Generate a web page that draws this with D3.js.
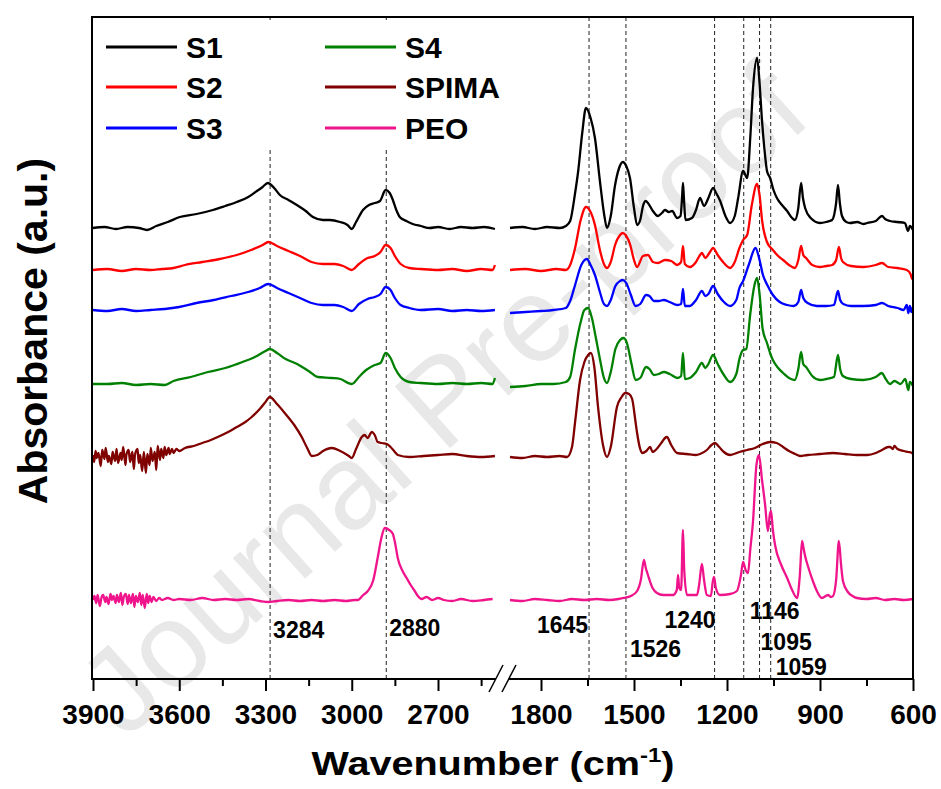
<!DOCTYPE html>
<html>
<head>
<meta charset="utf-8">
<script src="https://cdn.jsdelivr.net/npm/d3@7/dist/d3.min.js"></script>
<style>
  body { margin: 0; background: #fff; }
  svg { display: block; }
  text { font-family: "Liberation Sans", Arial, sans-serif; font-weight: bold; }
</style>
</head>
<body>
<div id="chart"></div>
<script>
// ---- data: FTIR spectra, [wavenumber, absorbance above own baseline] ----
const seriesNames = ["S1", "S2", "S3", "S4", "SPIMA", "PEO"];
const seriesColors = ["#000000", "#ff0000", "#0000ff", "#008000", "#800000", "#f0148c"];
const baselines = [4.51, 4.09, 3.69, 2.95, 2.22, 0.79];

const ticksHi = [3900, 3600, 3300, 3000, 2700];
const minorHi = [3750, 3450, 3150, 2850, 2550];
const ticksLo = [1800, 1500, 1200, 900, 600];
const minorLo = [1650, 1350, 1050, 750];

const peaksHi = [3284, 2880];
const peaksLo = [1645, 1526, 1240, 1146, 1095, 1059];

// high wavenumber region 3900-2500
const s1Hi = [[3900,0],[3860,0.01],[3820,-0.01],[3780,0.01],[3740,0],[3712,-0.02],[3680,0.02],[3640,0.06],[3598,0.11],[3540,0.14],[3483,0.18],[3440,0.22],[3400,0.26],[3360,0.31],[3330,0.37],[3310,0.41],[3292,0.45],[3270,0.40],[3250,0.33],[3220,0.28],[3191,0.23],[3160,0.17],[3135,0.11],[3100,0.08],[3076,0.08],[3041,0.06],[3015,0.03],[3000,-0.01],[2985,0.06],[2961,0.18],[2940,0.23],[2920,0.25],[2902,0.27],[2882,0.38],[2868,0.35],[2857,0.28],[2845,0.18],[2833,0.11],[2810,0.07],[2788,0.04],[2760,0.02],[2729,0],[2700,0.01],[2660,-0.01],[2620,0.01],[2580,0],[2540,0.01],[2502,-0.01]];
const s2Hi = [[3900,0],[3850,0.01],[3800,-0.01],[3750,0.01],[3700,0],[3660,0.01],[3620,0.02],[3580,0.05],[3520,0.08],[3460,0.11],[3400,0.15],[3350,0.20],[3310,0.25],[3290,0.28],[3260,0.24],[3220,0.19],[3180,0.14],[3140,0.08],[3100,0.06],[3060,0.06],[3030,0.04],[3000,0],[2975,0.06],[2945,0.12],[2920,0.14],[2900,0.18],[2882,0.25],[2865,0.22],[2850,0.14],[2830,0.06],[2800,0.02],[2760,0.01],[2700,0],[2650,0.01],[2600,-0.01],[2550,0.01],[2510,0],[2502,0.05]];
const s3Hi = [[3900,0],[3850,-0.01],[3800,0.01],[3750,-0.01],[3700,0],[3650,0.01],[3600,0.03],[3540,0.07],[3480,0.10],[3420,0.14],[3360,0.18],[3320,0.22],[3290,0.26],[3260,0.22],[3220,0.17],[3180,0.12],[3140,0.07],[3100,0.05],[3060,0.05],[3030,0.03],[3000,-0.01],[2975,0.06],[2945,0.11],[2920,0.13],[2900,0.16],[2882,0.23],[2865,0.20],[2850,0.12],[2830,0.05],[2800,0.02],[2760,0],[2700,0.01],[2650,-0.01],[2600,0],[2550,-0.01],[2502,0]];
const s4Hi = [[3900,0],[3850,0],[3800,0.01],[3750,-0.01],[3700,0],[3650,-0.01],[3620,0.03],[3560,0.07],[3500,0.12],[3440,0.16],[3380,0.22],[3330,0.28],[3300,0.33],[3285,0.35],[3260,0.31],[3230,0.25],[3190,0.20],[3150,0.13],[3118,0.07],[3070,0.06],[3040,0.05],[3000,0],[2975,0.07],[2950,0.14],[2920,0.19],[2900,0.21],[2882,0.31],[2865,0.26],[2850,0.16],[2830,0.07],[2800,0.02],[2760,0.01],[2700,0],[2650,0.01],[2600,0],[2550,0.01],[2510,0],[2502,0.06]];
const spimaHi = [[3900,0.02],[3896,-0.05],[3891,0.06],[3887,-0.01],[3881,0.04],[3873,-0.09],[3868,0.07],[3860,-0.02],[3856,0.09],[3848,-0.05],[3845,0.01],[3836,-0.07],[3832,0.05],[3823,-0.04],[3818,0.08],[3813,-0.06],[3804,0.04],[3800,-0.03],[3795,0.10],[3787,-0.08],[3784,0.02],[3776,0.07],[3771,-0.05],[3763,0.05],[3758,-0.12],[3754,0.02],[3745,0.08],[3741,-0.06],[3736,0.02],[3729,-0.14],[3723,0.05],[3716,-0.16],[3711,0.03],[3703,-0.08],[3699,0.09],[3693,-0.04],[3685,0.05],[3680,-0.13],[3675,0.11],[3667,-0.03],[3663,0.08],[3655,-0.01],[3651,0.10],[3645,0.02],[3637,0.09],[3633,0.03],[3625,0.08],[3620,0.04],[3610,0.08],[3600,0.06],[3580,0.09],[3550,0.11],[3520,0.14],[3490,0.17],[3466,0.20],[3430,0.25],[3400,0.30],[3370,0.35],[3348,0.40],[3320,0.48],[3300,0.55],[3285,0.60],[3260,0.53],[3233,0.44],[3200,0.32],[3174,0.20],[3155,0.09],[3139,0.01],[3120,0.02],[3100,0.06],[3070,0.09],[3040,0.06],[3010,0.01],[3000,-0.01],[2985,0.08],[2965,0.20],[2955,0.22],[2945,0.19],[2930,0.25],[2920,0.22],[2910,0.15],[2895,0.14],[2878,0.13],[2865,0.10],[2850,0.05],[2840,0.02],[2800,0],[2750,0.01],[2700,0.02],[2650,0.03],[2600,0.01],[2550,0],[2502,0.01]];
const peoHi = [[3900,0],[3895,0.04],[3889,-0.03],[3884,0.05],[3876,-0.06],[3871,0.02],[3865,0.05],[3857,-0.02],[3853,0.03],[3846,-0.04],[3839,0.06],[3834,0],[3829,0.04],[3821,-0.03],[3817,0.05],[3810,-0.02],[3803,0.07],[3798,-0.05],[3793,0.03],[3786,0.06],[3779,-0.04],[3775,0.05],[3768,-0.03],[3761,0.06],[3756,-0.07],[3751,0.04],[3744,-0.02],[3737,0.07],[3732,-0.05],[3727,0.05],[3720,-0.08],[3713,0.06],[3708,-0.03],[3703,0.04],[3696,-0.02],[3690,0.03],[3680,-0.01],[3670,0.02],[3660,0],[3640,0.02],[3620,0],[3600,0.01],[3560,0],[3520,0.02],[3480,0],[3440,0.01],[3400,0],[3360,0.01],[3320,-0.01],[3290,-0.02],[3260,-0.01],[3220,0],[3180,-0.01],[3140,0],[3100,-0.01],[3060,0],[3020,-0.01],[2990,0],[2979,0],[2960,0.05],[2944,0.09],[2925,0.20],[2910,0.42],[2897,0.62],[2885,0.72],[2870,0.70],[2857,0.66],[2848,0.55],[2840,0.42],[2825,0.30],[2809,0.22],[2795,0.15],[2781,0.09],[2770,0.04],[2757,0.01],[2740,0.03],[2720,0],[2700,0.02],[2680,0],[2650,-0.01],[2620,0.01],[2580,-0.01],[2540,0],[2510,0.01]];

// fingerprint region 1900-600
const s1Lo = [[1900,0],[1860,0.01],[1820,-0.01],[1780,0.01],[1739,0],[1720,0.02],[1706,0.07],[1690,0.35],[1680,0.57],[1667,0.95],[1655,1.20],[1640,1.10],[1626,0.90],[1610,0.47],[1597,0.15],[1587,0],[1575,0.12],[1561,0.43],[1548,0.60],[1536,0.66],[1525,0.62],[1513,0.50],[1500,0.20],[1490,0.03],[1480,0.08],[1471,0.22],[1462,0.27],[1455,0.25],[1439,0.17],[1423,0.12],[1410,0.15],[1400,0.18],[1388,0.16],[1377,0.17],[1361,0.10],[1350,0.12],[1345,0.30],[1342,0.45],[1339,0.30],[1334,0.08],[1313,0.10],[1300,0.18],[1287,0.30],[1274,0.22],[1260,0.30],[1245,0.40],[1235,0.35],[1222,0.27],[1205,0.12],[1190,0.05],[1175,0.12],[1164,0.30],[1148,0.57],[1135,0.50],[1125,0.90],[1116,1.40],[1103,1.70],[1095,1.45],[1087,1.07],[1078,0.75],[1071,0.57],[1061,0.50],[1050,0.38],[1039,0.30],[1020,0.22],[1006,0.17],[990,0.10],[981,0.08],[970,0.20],[961,0.45],[955,0.30],[948,0.20],[930,0.10],[900,0.05],[880,0.06],[861,0.08],[848,0.25],[842,0.43],[836,0.25],[829,0.12],[815,0.06],[803,0.05],[780,0.06],[760,0.04],[748,0.05],[720,0.07],[700,0.12],[690,0.09],[674,0.07],[650,0.06],[626,0.05],[616,-0.03],[610,0.02],[600,-0.02]];
const s2Lo = [[1900,0],[1850,0.01],[1800,-0.01],[1750,0.01],[1720,0],[1706,0.05],[1690,0.22],[1672,0.50],[1655,0.63],[1640,0.58],[1626,0.45],[1610,0.20],[1597,0.06],[1587,0.02],[1575,0.08],[1561,0.25],[1545,0.35],[1536,0.37],[1525,0.34],[1513,0.26],[1500,0.10],[1490,0.03],[1471,0.14],[1455,0.15],[1439,0.08],[1423,0.07],[1400,0.10],[1380,0.09],[1361,0.05],[1348,0.08],[1342,0.24],[1336,0.06],[1320,0.03],[1300,0.08],[1287,0.15],[1281,0.17],[1270,0.12],[1255,0.18],[1245,0.22],[1230,0.15],[1210,0.07],[1190,0.02],[1175,0.08],[1160,0.22],[1148,0.30],[1135,0.35],[1120,0.65],[1103,0.86],[1095,0.75],[1087,0.50],[1071,0.28],[1052,0.20],[1035,0.14],[1019,0.10],[1000,0.05],[981,0.02],[970,0.10],[961,0.24],[954,0.15],[945,0.12],[925,0.05],[900,0.03],[880,0.04],[861,0.05],[848,0.10],[839,0.23],[832,0.12],[826,0.08],[800,0.04],[760,0.03],[720,0.05],[700,0.07],[680,0.03],[650,0.02],[620,0],[608,-0.04],[603,-0.09],[600,-0.07]];
const s3Lo = [[1900,-0.03],[1850,-0.02],[1800,-0.01],[1760,0],[1720,0.02],[1706,0.09],[1690,0.25],[1670,0.45],[1652,0.51],[1640,0.45],[1626,0.35],[1610,0.18],[1597,0.06],[1587,0.04],[1575,0.10],[1560,0.24],[1545,0.29],[1536,0.30],[1525,0.27],[1510,0.15],[1495,0.04],[1480,0.06],[1461,0.15],[1450,0.14],[1436,0.09],[1420,0.09],[1404,0.10],[1385,0.08],[1360,0.05],[1348,0.06],[1342,0.21],[1336,0.04],[1320,0.04],[1300,0.10],[1281,0.19],[1270,0.14],[1260,0.16],[1245,0.24],[1230,0.16],[1210,0.08],[1190,0.04],[1170,0.10],[1160,0.22],[1148,0.29],[1130,0.45],[1108,0.62],[1095,0.50],[1084,0.35],[1070,0.25],[1052,0.15],[1030,0.08],[1006,0.05],[985,0.04],[970,0.08],[961,0.20],[954,0.12],[940,0.07],[910,0.04],[880,0.04],[855,0.05],[842,0.19],[835,0.10],[825,0.06],[800,0.04],[760,0.04],[720,0.05],[700,0.07],[680,0.04],[650,0.02],[630,0],[620,0.05],[615,-0.03],[610,0.04],[605,-0.02],[600,0.03]];
const s4Lo = [[1900,-0.03],[1850,-0.02],[1800,0],[1760,0],[1720,0.02],[1706,0.07],[1690,0.35],[1672,0.62],[1660,0.74],[1648,0.76],[1635,0.65],[1626,0.51],[1610,0.25],[1597,0.06],[1587,0.01],[1575,0.12],[1560,0.35],[1545,0.44],[1533,0.46],[1522,0.40],[1508,0.20],[1495,0.04],[1480,0.06],[1461,0.17],[1450,0.15],[1436,0.09],[1420,0.10],[1404,0.12],[1385,0.10],[1360,0.06],[1348,0.08],[1342,0.31],[1336,0.05],[1320,0.06],[1300,0.12],[1281,0.21],[1270,0.16],[1260,0.20],[1245,0.29],[1230,0.20],[1210,0.09],[1190,0.02],[1170,0.10],[1160,0.25],[1148,0.34],[1138,0.35],[1125,0.70],[1112,0.98],[1103,1.06],[1095,0.90],[1085,0.55],[1071,0.41],[1060,0.30],[1052,0.24],[1035,0.16],[1019,0.11],[1000,0.06],[981,0.04],[970,0.15],[961,0.32],[954,0.20],[945,0.17],[925,0.08],[900,0.04],[880,0.05],[855,0.07],[842,0.29],[835,0.15],[826,0.08],[800,0.05],[760,0.04],[720,0.07],[700,0.11],[690,0.06],[674,0],[660,0.03],[640,0],[625,0.05],[615,-0.06],[610,0.02],[600,-0.02]];
const spimaLo = [[1900,0],[1860,-0.01],[1820,0.01],[1780,0],[1740,0.01],[1716,0],[1700,0.10],[1690,0.35],[1674,0.77],[1660,0.95],[1648,1.02],[1639,1.04],[1628,0.90],[1616,0.50],[1600,0.12],[1587,0],[1575,0.10],[1555,0.50],[1540,0.60],[1528,0.64],[1516,0.63],[1506,0.58],[1495,0.35],[1490,0.24],[1480,0.08],[1474,0.04],[1460,0.06],[1448,0.10],[1440,0.05],[1430,0.07],[1412,0.14],[1400,0.19],[1394,0.20],[1380,0.12],[1361,0.04],[1330,0.03],[1300,0.02],[1287,0.03],[1265,0.07],[1250,0.12],[1239,0.14],[1225,0.10],[1210,0.05],[1190,0.02],[1160,0.05],[1135,0.07],[1110,0.09],[1085,0.13],[1061,0.15],[1040,0.14],[1019,0.10],[1000,0.06],[980,0.03],[964,0.01],[940,0.02],[900,0.03],[858,0.04],[820,0.03],[780,0.02],[748,0.02],[720,0.04],[700,0.07],[680,0.10],[674,0.10],[665,0.08],[660,0.11],[650,0.08],[630,0.06],[615,0.05],[603,0.04],[600,0.03]];
const peoLo = [[1900,0],[1860,-0.01],[1820,0.01],[1780,0],[1740,-0.01],[1700,0.01],[1660,0],[1620,0.01],[1580,0],[1550,0.01],[1535,0.02],[1510,0.04],[1490,0.09],[1478,0.20],[1468,0.40],[1462,0.32],[1455,0.25],[1440,0.12],[1426,0.07],[1406,0.05],[1374,0.05],[1362,0.10],[1358,0.25],[1354,0.12],[1348,0.10],[1342,0.70],[1338,0.30],[1329,0.05],[1297,0.05],[1290,0.15],[1281,0.36],[1274,0.20],[1265,0.05],[1252,0.04],[1246,0.18],[1242,0.23],[1236,0.12],[1223,0.05],[1190,0.06],[1168,0.09],[1155,0.25],[1148,0.38],[1140,0.30],[1132,0.27],[1125,0.50],[1116,0.79],[1105,1.35],[1097,1.45],[1087,1.20],[1077,0.95],[1068,0.69],[1062,0.85],[1058,0.89],[1052,0.70],[1045,0.55],[1025,0.35],[1006,0.22],[990,0.10],[974,0.02],[965,0.25],[958,0.59],[952,0.50],[948,0.44],[935,0.30],[923,0.19],[910,0.09],[894,0.02],[874,0.05],[865,0.03],[858,0.04],[848,0.20],[839,0.59],[832,0.35],[826,0.19],[810,0.08],[795,0.04],[781,0.02],[750,0.01],[720,0.02],[690,0],[660,0.01],[630,0],[600,0.01]];

const hiData = [s1Hi, s2Hi, s3Hi, s4Hi, spimaHi, peoHi];
const loData = [s1Lo, s2Lo, s3Lo, s4Lo, spimaLo, peoLo];

// ---- layout ----
const width = 941, height = 789;
const box = { left: 92, right: 913, top: 17, bottom: 679 };

const svg = d3.select("#chart").append("svg")
  .attr("width", width).attr("height", height)
  .attr("viewBox", [0, 0, width, height]);

const xHi = d3.scaleLinear().domain([3900, 2500]).range([93, 495.5]);
const xLo = d3.scaleLinear().domain([1900, 600]).range([510, 913]);
const y = d3.scaleLinear().domain([0, 6.62]).range([box.bottom, box.top]);

// watermark
svg.append("text")
  .attr("transform", "translate(470,430) rotate(-42)")
  .attr("text-anchor", "middle")
  .attr("font-size", 120)
  .style("font-weight", "normal")
  .attr("fill", "#e8e8e8")
  .text("Journal Pre-proof");

// peak guide lines
const guides = peaksHi.map(p => xHi(p)).concat(peaksLo.map(p => xLo(p)));
svg.selectAll(".guide").data(guides).enter().append("line")
  .attr("class", "guide")
  .attr("x1", d => d).attr("x2", d => d)
  .attr("y1", box.top).attr("y2", box.bottom)
  .attr("stroke", "#222").attr("stroke-width", 1)
  .attr("stroke-dasharray", "4,3");

// spectra
seriesNames.forEach((name, i) => {
  const base = baselines[i];
  const lineHi = d3.line().x(d => xHi(d[0])).y(d => y(base + d[1])).curve(d3.curveMonotoneX);
  const lineLo = d3.line().x(d => xLo(d[0])).y(d => y(base + d[1])).curve(d3.curveMonotoneX);
  [[hiData[i], lineHi], [loData[i], lineLo]].forEach(([data, gen]) => {
    svg.append("path")
      .attr("d", gen(data))
      .attr("fill", "none")
      .attr("stroke", seriesColors[i])
      .attr("stroke-width", 2.3)
      .attr("stroke-linejoin", "round");
  });
});

// legend (white box over the guides)
svg.append("rect")
  .attr("x", box.left + 2).attr("y", box.top + 3)
  .attr("width", 418).attr("height", 130)
  .attr("fill", "#fff");
const legendCols = [106, 325];
const legendRows = [47, 87, 128];
seriesNames.forEach((name, i) => {
  const lx = legendCols[Math.floor(i / 3)];
  const ly = legendRows[i % 3];
  svg.append("line")
    .attr("x1", lx).attr("x2", lx + 71)
    .attr("y1", ly).attr("y2", ly)
    .attr("stroke", seriesColors[i]).attr("stroke-width", 3);
  svg.append("text")
    .attr("x", lx + 80).attr("y", ly + 10.5)
    .attr("font-size", 30)
    .text(name);
});

// peak labels
const labelSpec = [
  { v: 3284, x: xHi, dx: 3, y: 638, anchor: "start" },
  { v: 2880, x: xHi, dx: 3, y: 636, anchor: "start" },
  { v: 1645, x: xLo, dx: -1, y: 633, anchor: "end" },
  { v: 1526, x: xLo, dx: 4, y: 657, anchor: "start" },
  { v: 1240, x: xLo, dx: 1, y: 628, anchor: "end" },
  { v: 1146, x: xLo, dx: 6, y: 619, anchor: "start" },
  { v: 1095, x: xLo, dx: 1, y: 650, anchor: "start" },
  { v: 1059, x: xLo, dx: 5, y: 675, anchor: "start" }
];
svg.selectAll(".peak").data(labelSpec).enter().append("text")
  .attr("class", "peak")
  .attr("x", d => d.x(d.v) + d.dx)
  .attr("y", d => d.y)
  .attr("text-anchor", d => d.anchor)
  .attr("font-size", 23)
  .text(d => d.v);

// axes
function drawAxis(scale, major, minor) {
  const g = svg.append("g").attr("transform", `translate(0,${box.bottom})`);
  g.call(d3.axisBottom(scale).tickValues(major).tickSize(12).tickPadding(13).tickFormat(d3.format("d")));
  g.call(gg => gg.select(".domain").remove());
  g.selectAll("line").attr("stroke-width", 2);
  g.selectAll("text").attr("font-size", 28).attr("font-family", null).attr("fill", "#000");
  const m = svg.append("g").attr("transform", `translate(0,${box.bottom})`);
  m.call(d3.axisBottom(scale).tickValues(minor).tickSize(7).tickFormat(""));
  m.call(gg => gg.select(".domain").remove());
  m.selectAll("line").attr("stroke-width", 2);
}
drawAxis(xHi, ticksHi, minorHi);
drawAxis(xLo, ticksLo, minorLo);

// frame with broken bottom axis
const frame = svg.append("g").attr("stroke", "#000").attr("stroke-width", 2).attr("fill", "none");
frame.append("path").attr("d", `M496,${box.bottom}H${box.left}V${box.top}H${box.right}V${box.bottom}H508.5`);
frame.append("line").attr("x1", 489).attr("y1", 692).attr("x2", 503).attr("y2", 665).attr("stroke-width", 1.5);
frame.append("line").attr("x1", 502).attr("y1", 692).attr("x2", 516).attr("y2", 665).attr("stroke-width", 1.5);

// axis titles
const xt = svg.append("text")
  .attr("transform", "translate(493,775) scale(1.2,1)")
  .attr("text-anchor", "middle")
  .attr("font-size", 33);
xt.append("tspan").text("Wavenumber (cm");
xt.append("tspan").attr("font-size", 20).attr("dy", -13).text("-1");
xt.append("tspan").attr("dy", 13).text(")");

svg.append("text")
  .attr("transform", "translate(47,331) rotate(-90)")
  .attr("text-anchor", "middle")
  .attr("font-size", 41)
  .text("Absorbance (a.u.)");
</script>
</body>
</html>
